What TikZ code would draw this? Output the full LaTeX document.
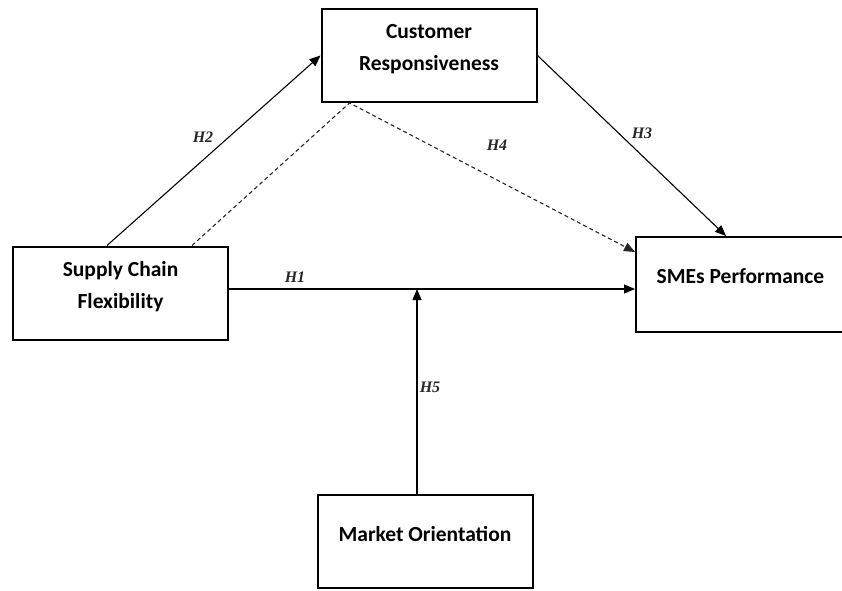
\documentclass[tikz,border=0pt]{standalone}
\usepackage{fontspec}
\setmainfont{Carlito}
\newfontfamily\hypfont{Liberation Serif}
\usetikzlibrary{arrows.meta}

\begin{document}
\begin{tikzpicture}[x=1pt,y=1pt,
    box/.style={draw=black,line width=2pt,rectangle,minimum width=215pt,minimum height=93pt,
                align=center,text depth=16pt,font=\fontsize{21.5}{32}\selectfont\bfseries},
    hyp/.style={font=\fontsize{16}{18}\selectfont\hypfont\bfseries\itshape,text=black!85},
    conn/.style={line width=1.1pt,-{Triangle[length=11pt,width=9pt]}},
    indirect/.style={dash pattern=on 4pt off 3pt,draw=black!85}]
\clip (0,0) rectangle (842,590);
\node[box] (cust) at (429,534.5) {Customer\\Responsiveness};
\node[box] (sup) at (120.5,297) {Supply Chain\\Flexibility};
\node[box,minimum width=209pt,minimum height=95pt] (sme) at (740.5,305.5) {SMEs Performance};
\node[box] (mkt) at (425,48.5) {Market Orientation};

\draw[conn] ([xshift=95pt]sup.north west) -- (cust.west);
\draw[conn,indirect] ([xshift=180pt]sup.north west) -- ([xshift=29pt]cust.south west) -- ([yshift=-16pt]sme.north west);
\draw[conn] (cust.east) -- ([xshift=91pt]sme.north west);
\draw[conn] ([yshift=4pt]sup.east) coordinate (hone) -- (hone -| sme.west);
\coordinate (mo) at ([xshift=-8pt]mkt.north);
\draw[conn] (mo) -- (mo |- hone);

\node[hyp] (h1) at (295,313) {H1};
\node[hyp] (h2) at (203,453) {H2};
\node[hyp] (h3) at (642,457) {H3};
\node[hyp] (h4) at (497,445) {H4};
\node[hyp] (h5) at (430,203) {H5};
\end{tikzpicture}
\end{document}
